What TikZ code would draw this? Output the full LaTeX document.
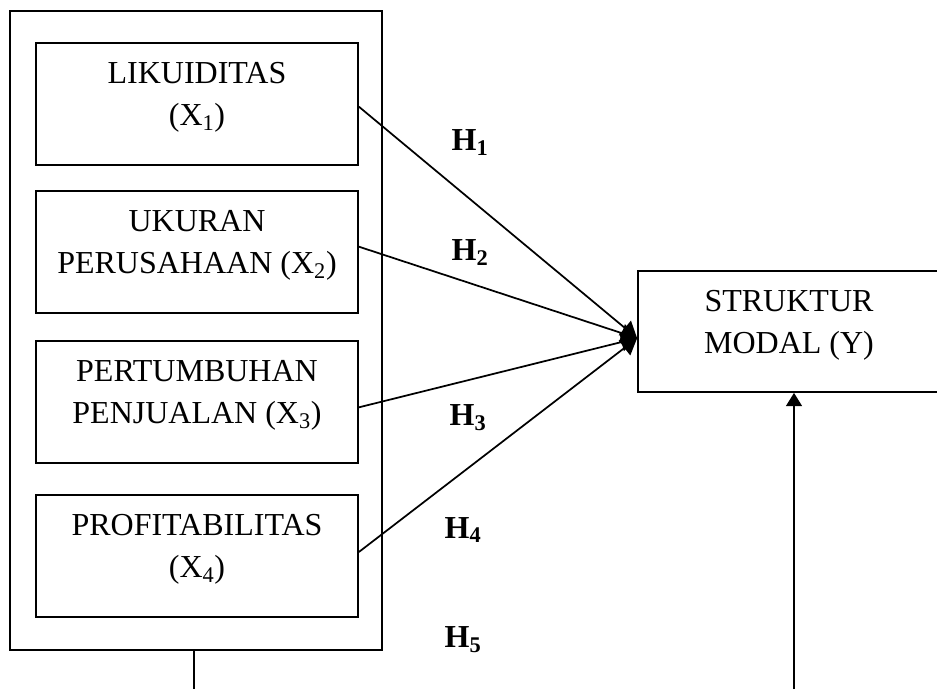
\documentclass[tikz,border=0pt]{standalone}
\usepackage{fontspec}
\setmainfont{Liberation Serif}
\usetikzlibrary{arrows.meta}

\begin{document}
\begin{tikzpicture}[
    x=0.75pt, y=-0.75pt,
    frame/.style={rectangle, draw, line width=1.3pt},
    varbox/.style={frame, minimum width=241.5pt, minimum height=91.5pt},
    boxtext/.style={align=center, inner sep=0pt, font=\fontsize{24}{31.5}\selectfont},
    hyp/.style={inner sep=0pt, font=\bfseries\fontsize{24}{28}\selectfont},
    arrow/.style={-{Triangle[length=10pt, width=12pt]}, line width=1.3pt},
    path/.style={-{Triangle[length=12pt, width=14pt]}, line width=1.3pt}
]
\useasboundingbox (0,0) rectangle (937,689);

% Independent variables
\node[frame, minimum width=279pt, minimum height=479.25pt] (xall) at (196,330.5) {};
\node[varbox] (liq) at (197,104) {};
\node[varbox] (size) at (197,252) {};
\node[varbox] (growth) at (197,402) {};
\node[varbox] (prof) at (197,556) {};

\node[boxtext] (liqtext) at ([yshift=5pt]liq.center) {LIKUIDITAS\\(X\textsubscript{1})};
\node[boxtext] (sizetext) at ([yshift=5pt]size.center) {UKURAN\\PERUSAHAAN (X\textsubscript{2})};
\node[boxtext] (growthtext) at ([yshift=5pt]growth.center) {PERTUMBUHAN\\PENJUALAN (X\textsubscript{3})};
\node[boxtext] (proftext) at ([yshift=5pt]prof.center) {PROFITABILITAS\\(X\textsubscript{4})};

% Dependent variable
\node[frame, minimum width=226.5pt, minimum height=90.75pt] (capstr) at (789,331.5) {};
\node[boxtext] (capstrtext) at ([yshift=5pt]capstr.center) {STRUKTUR\\MODAL (Y)};

% Hypotheses
\coordinate (join) at ([yshift=-5pt]capstr.west);
\draw[path] ([yshift=-2pt]liq.east) -- (join);
\draw[path] ([yshift=4pt]size.east) -- (join);
\draw[path] ([yshift=-4pt]growth.east) -- (join);
\draw[path] ([yshift=3pt]prof.east) -- (join);

\node[hyp] (h1) at (470,143) {H\textsubscript{1}};
\node[hyp] (h2) at (470,253) {H\textsubscript{2}};
\node[hyp] (h3) at (468,418) {H\textsubscript{3}};
\node[hyp] (h4) at (463,530) {H\textsubscript{4}};
\node[hyp] (h5) at (463,640) {H\textsubscript{5}};

% Simultaneous effect
\coordinate (xfoot) at (194,689);
\coordinate (yfoot) at (794,689);
\draw[line width=1.3pt] (xfoot |- xall.south) -- (xfoot);
\draw[arrow] (yfoot) -- (yfoot |- capstr.south);

\end{tikzpicture}
\end{document}
